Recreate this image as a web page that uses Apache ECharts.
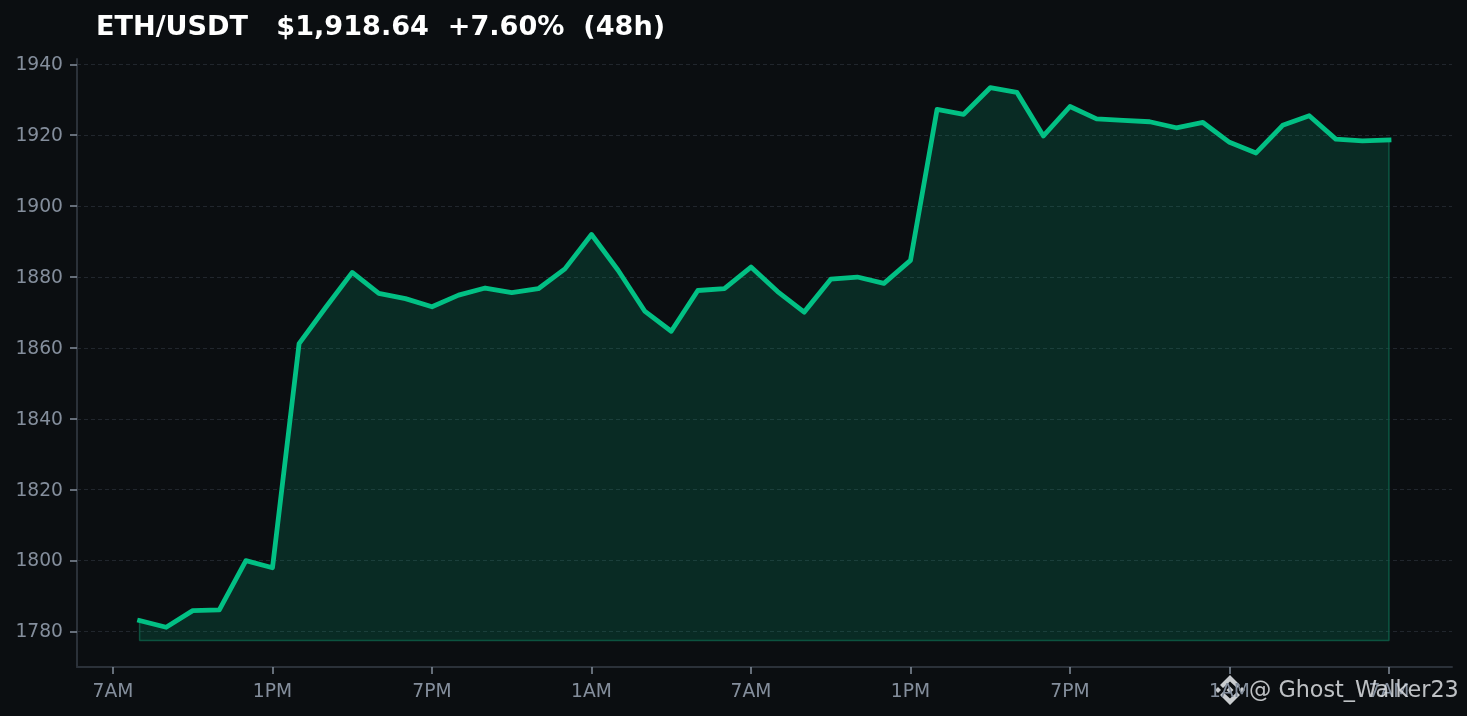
<!DOCTYPE html>
<html>
<head>
<meta charset="utf-8">
<style>html,body{margin:0;padding:0;background:#0b0e11;overflow:hidden}#c{width:1467px;height:716px}</style>
<script src="https://cdn.jsdelivr.net/npm/echarts@6/dist/echarts.min.js"></script>
</head>
<body>
<div id="c"></div>
<script>
const hours = [1,2,3,4,5,6,7,8,9,10,11,12,13,14,15,16,17,18,19,20,21,22,23,24,25,26,27,28,29,30,31,32,33,34,35,36,37,38,39,40,41,42,43,44,45,46,47,48];
const prices = [1783.1,1781.2,1785.9,1786.1,1800,1798,1861.2,1871.4,1881.3,1875.4,1873.9,1871.6,1874.9,1876.9,1875.6,1876.7,1882.3,1892,1881.9,1870.4,1864.7,1876.2,1876.7,1882.8,1875.9,1870.1,1879.4,1880,1878.2,1884.7,1927.3,1925.9,1933.4,1932.1,1919.8,1928.1,1924.6,1924.2,1923.8,1922.1,1923.6,1918,1915,1922.8,1925.5,1918.9,1918.4,1918.64];
const baseline = 1777.5;
const xTickValues = [0,6,12,18,24,30,36,42,48];
const xTickLabels = ['7AM','1PM','7PM','1AM','7AM','1PM','7PM','1AM','7AM'];
const yTickValues = [1780,1800,1820,1840,1860,1880,1900,1920,1940];
const titleText = 'ETH/USDT   $1,918.64  +7.60%  (48h)';
const watermark = '@ Ghost_Walker23';

const font = '"DejaVu Sans"';
const lineData = hours.map((h,i)=>[h,prices[i]]);
const n = hours.length-1;
const edgeData = [[hours[0],prices[0]],[hours[0],baseline],[hours[n],baseline],[hours[n],prices[n]]];
const logoC = 'rgba(222,225,228,0.9)';
const poly = pts => ({type:'polygon',shape:{points:pts},style:{fill:logoC}});

const chart = echarts.init(document.getElementById('c'),null,{width:1467,height:716,renderer:'canvas'});
chart.setOption({
  animation:false,
  backgroundColor:'#0b0e11',
  title:{text:titleText,left:91,top:9,textStyle:{color:'#ffffff',fontFamily:font,fontWeight:'bold',fontSize:27.1}},
  grid:{left:77,right:15,top:59,bottom:49},
  xAxis:{type:'value',min:-1.354,max:50.37,
    axisLine:{show:true,onZero:false,lineStyle:{color:'#2b3139',width:2}},
    axisTick:{show:true,customValues:xTickValues,length:7,lineStyle:{color:'#848e9c',width:1.5}},
    axisLabel:{customValues:xTickValues,color:'#848e9c',fontFamily:font,fontSize:18.7,margin:16,
      formatter:v=>xTickLabels[xTickValues.indexOf(v)]},
    splitLine:{show:false}},
  yAxis:{type:'value',min:1770,max:1941.5,
    axisLine:{show:true,onZero:false,lineStyle:{color:'#2b3139',width:2}},
    axisTick:{show:true,customValues:yTickValues,length:7,lineStyle:{color:'#848e9c',width:1.5}},
    axisLabel:{customValues:yTickValues,color:'#848e9c',fontFamily:font,fontSize:18.7,margin:14,verticalAlign:'top',lineHeight:2,
      formatter:v=>String(v)},
    splitLine:{show:true,lineStyle:{color:'#2b3139',width:1,type:[4,3],opacity:.7}}},
  series:[
    {type:'line',data:lineData,showSymbol:false,smooth:false,z:3,
      lineStyle:{color:'#02c084',width:4.8,join:'round',cap:'square'},
      areaStyle:{color:'#02c084',origin:baseline,opacity:0.165}},
    {type:'line',data:edgeData,showSymbol:false,z:2,silent:true,
      lineStyle:{color:'#0e4a3a',width:1.5}}
  ],
  graphic:[
    {type:'group',x:1230,y:690,z:100,children:[
      poly([[0,-15],[10,-5],[7,-2],[0,-8.5],[-7,-2],[-10,-5]]),
      poly([[0,15],[10,5],[7,2],[0,8.5],[-7,2],[-10,5]]),
      poly([[0,-3.5],[3.5,0],[0,3.5],[-3.5,0]]),
      poly([[-15,0],[-12,-3],[-9,0],[-12,3]]),
      poly([[15,0],[12,-3],[9,0],[12,3]])
    ]},
    {type:'text',x:1249,y:691,z:100,style:{text:watermark,fill:'rgba(222,225,228,0.85)',font:'22.3px "DejaVu Sans"',textVerticalAlign:'middle',textAlign:'left'}}
  ]
});
</script>
</body>
</html>
